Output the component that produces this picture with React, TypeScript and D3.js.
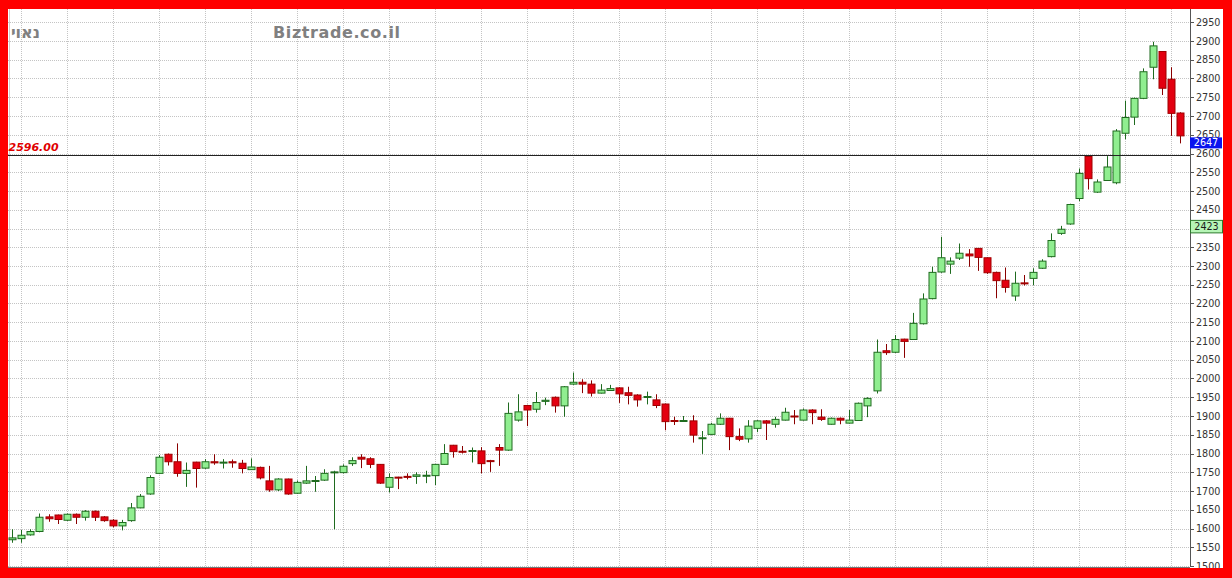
import React from 'react';
import * as d3 from 'd3';

// OHLC values (weekly candles, oldest first)
const open = [1570,1573,1583,1592,1631,1636,1622,1638,1630,1646,1631,1622,1607,1621,1655,1692,1747,1798,1778,1747,1777,1761,1778,1775,1778,1774,1757,1763,1727,1703,1732,1694,1721,1726,1729,1749,1749,1773,1790,1786,1771,1710,1737,1739,1739,1741,1741,1771,1822,1806,1806,1807,1781,1816,1809,1889,1928,1918,1939,1950,1927,1985,1990,1985,1961,1968,1975,1962,1956,1950,1943,1932,1888,1886,1887,1840,1851,1878,1894,1845,1839,1867,1887,1878,1889,1900,1889,1916,1897,1878,1894,1881,1888,1927,1967,2074,2070,2105,2104,2146,2213,2284,2305,2321,2332,2347,2322,2283,2262,2220,2255,2267,2294,2325,2387,2412,2480,2592,2497,2528,2522,2654,2697,2747,2830,2872,2798,2708];
const high = [1598,1596,1598,1640,1638,1637,1640,1640,1649,1648,1633,1625,1623,1668,1692,1742,1796,1800,1827,1776,1778,1785,1798,1785,1784,1783,1787,1765,1767,1734,1733,1728,1767,1740,1758,1754,1771,1790,1798,1790,1772,1747,1738,1747,1750,1754,1772,1825,1823,1820,1816,1817,1783,1825,1936,1958,1930,1964,1949,1952,1980,2016,1998,1995,1985,1983,1977,1978,1958,1965,1958,1933,1898,1900,1902,1860,1882,1907,1895,1867,1889,1889,1889,1898,1922,1916,1920,1918,1918,1896,1896,1916,1936,1950,2104,2092,2116,2106,2175,2227,2298,2378,2323,2360,2345,2348,2323,2285,2296,2285,2276,2294,2318,2387,2407,2466,2560,2596,2531,2593,2665,2741,2749,2827,2898,2873,2830,2710];
const low = [1562,1562,1581,1590,1618,1612,1620,1612,1621,1620,1618,1603,1595,1618,1654,1690,1745,1768,1738,1711,1709,1759,1770,1760,1762,1747,1756,1731,1698,1700,1690,1692,1719,1698,1727,1598,1747,1767,1761,1761,1719,1696,1705,1731,1719,1721,1716,1770,1789,1800,1776,1747,1751,1767,1807,1885,1873,1909,1929,1909,1898,1983,1961,1952,1960,1967,1935,1931,1925,1931,1921,1862,1876,1884,1829,1799,1850,1876,1809,1833,1829,1857,1836,1869,1888,1878,1888,1878,1887,1877,1878,1880,1887,1897,1960,2063,2068,2055,2103,2144,2211,2282,2279,2316,2298,2287,2279,2214,2229,2207,2248,2249,2292,2323,2383,2410,2473,2504,2495,2527,2518,2638,2676,2745,2798,2756,2647,2627];
const close = [1575,1582,1592,1630,1626,1624,1638,1630,1646,1630,1621,1607,1616,1655,1686,1736,1790,1778,1747,1755,1760,1778,1775,1777,1775,1760,1764,1735,1703,1732,1692,1723,1727,1728,1747,1751,1766,1781,1785,1771,1721,1736,1736,1737,1743,1742,1771,1800,1805,1804,1808,1773,1779,1809,1907,1911,1916,1936,1942,1927,1978,1990,1985,1961,1969,1973,1959,1955,1943,1952,1928,1885,1886,1888,1849,1842,1878,1894,1845,1838,1873,1887,1881,1891,1910,1898,1916,1909,1891,1894,1889,1889,1934,1947,2070,2069,2104,2099,2147,2212,2283,2322,2313,2334,2327,2323,2282,2261,2243,2254,2253,2283,2313,2368,2398,2464,2547,2533,2524,2564,2660,2696,2747,2818,2887,2774,2707,2647];

const yTicks = [1500,1550,1600,1650,1700,1750,1800,1850,1900,1950,2000,2050,2100,2150,2200,2250,2300,2350,2400,2450,2500,2550,2600,2650,2700,2750,2800,2850,2900,2950];
const refLevel = 2596;
const refLabel = '2596.00';
const lastPrice = 2647;
const markerPrice = 2423;
const symbolName = 'נאוי';
const watermark = 'Biztrade.co.il';

const W = 1232;
const H = 578;
const plotLeft = 8;
const plotRight = 1190;
const plotTop = 9;
const plotBottom = 567;

export default function App() {
  const n = open.length;
  const idx = d3.range(n);
  const x = d3.scalePoint<number>().domain(idx).range([11.7, 11.7 + (n - 1) * 9.2]);
  const y = d3.scaleLinear().domain([1500, 2950]).range([566, 22.25]);
  const bodyW = 7;
  const gridIdx = idx.filter((i) => (i - 1) % 5 === 0);

  return (
    <div style={{ position: 'fixed', left: 0, top: 0 }}>
      <svg width={W} height={H} style={{ display: 'block', fontFamily: 'DejaVu Sans, Verdana, sans-serif' }}>
        <rect x={0} y={0} width={W} height={H} fill="#ffffff" />
        {/* horizontal grid */}
        {yTicks.map((t) => (
          <line key={'h' + t} x1={plotLeft} x2={plotRight} y1={Math.round(y(t)) + 0.5} y2={Math.round(y(t)) + 0.5}
            stroke="#c4c4c4" strokeDasharray="1 1" />
        ))}
        {/* vertical grid */}
        {gridIdx.map((i) => (
          <line key={'v' + i} x1={Math.round(x(i)!) + 0.5} x2={Math.round(x(i)!) + 0.5} y1={plotTop} y2={plotBottom}
            stroke="#c4c4c4" strokeDasharray="1 1" />
        ))}
        <line x1={plotLeft + 1.5} x2={plotLeft + 1.5} y1={plotTop} y2={plotBottom} stroke="#cfcfcf" />
        {/* watermark + symbol */}
        <text x={40} y={38} textAnchor="end" fontSize={16} fontWeight="bold" fill="#808080">{symbolName}</text>
        <text x={273} y={38} fontSize={16} fontWeight="bold" fill="#808080" letterSpacing={0.6}>{watermark}</text>
        {/* candles */}
        {idx.map((i) => {
          const o = open[i], c = close[i], h = high[i], l = low[i];
          const up = c >= o;
          const cx = Math.round(x(i)!) + 0.5;
          const yTop = y(Math.max(o, c));
          const yBot = y(Math.min(o, c));
          const bh = Math.max(1, yBot - yTop);
          const wick = up ? '#1f6b1f' : '#8a0000';
          return (
            <g key={'c' + i}>
              <line x1={cx} x2={cx} y1={y(h)} y2={y(l)} stroke={wick} strokeWidth={1} />
              <rect x={cx - bodyW / 2} y={yTop} width={bodyW} height={bh}
                fill={up ? '#90ee90' : '#e30010'} stroke={up ? '#1f6b1f' : '#a00000'} strokeWidth={1} />
            </g>
          );
        })}
        {/* reference line */}
        <line x1={plotLeft} x2={plotRight} y1={Math.round(y(refLevel)) + 0.5} y2={Math.round(y(refLevel)) + 0.5} stroke="#222" strokeWidth={1} />
        <text x={8.5} y={151} fontSize={11} fontWeight="bold" fontStyle="italic" fill="#e00000">{refLabel}</text>
        {/* right axis */}
        <rect x={plotRight} y={plotTop} width={W - plotRight} height={plotBottom - plotTop} fill="#ffffff" />
        <line x1={plotRight + 0.5} x2={plotRight + 0.5} y1={plotTop} y2={plotBottom} stroke="#555" />
        <line x1={plotLeft} x2={plotRight} y1={plotBottom + 0.5} y2={plotBottom + 0.5} stroke="#777" />
        {yTicks.map((t) => (
          <g key={'t' + t}>
            <line x1={plotRight} x2={plotRight + 4} y1={Math.round(y(t)) + 0.5} y2={Math.round(y(t)) + 0.5} stroke="#555" />
            <text x={1196} y={y(t) + 3.6} fontSize={9.6} fill="#333">{t}</text>
          </g>
        ))}
        {/* price boxes */}
        <rect x={plotRight} y={y(lastPrice) + 1.5} width={32} height={11} fill="#0a14ee" />
        <text x={1206} y={y(lastPrice) + 10.5} textAnchor="middle" fontSize={9.6} fill="#ffffff">{lastPrice}</text>
        <rect x={plotRight + 0.5} y={y(markerPrice) + 0.5} width={32} height={12.5} fill="#b6f5b6" stroke="#2d7a2d" strokeWidth={1} />
        <text x={1206.5} y={y(markerPrice) + 10.5} textAnchor="middle" fontSize={9.6} fill="#1a1a1a">{markerPrice}</text>
        {/* red frame */}
        <rect x={0} y={0} width={W} height={9} fill="#ff0000" />
        <rect x={0} y={0} width={8} height={H} fill="#ff0000" />
        <rect x={1223} y={0} width={W - 1223} height={H} fill="#ff0000" />
        <rect x={0} y={568} width={W} height={H - 568} fill="#ff0000" />
      </svg>
    </div>
  );
}
